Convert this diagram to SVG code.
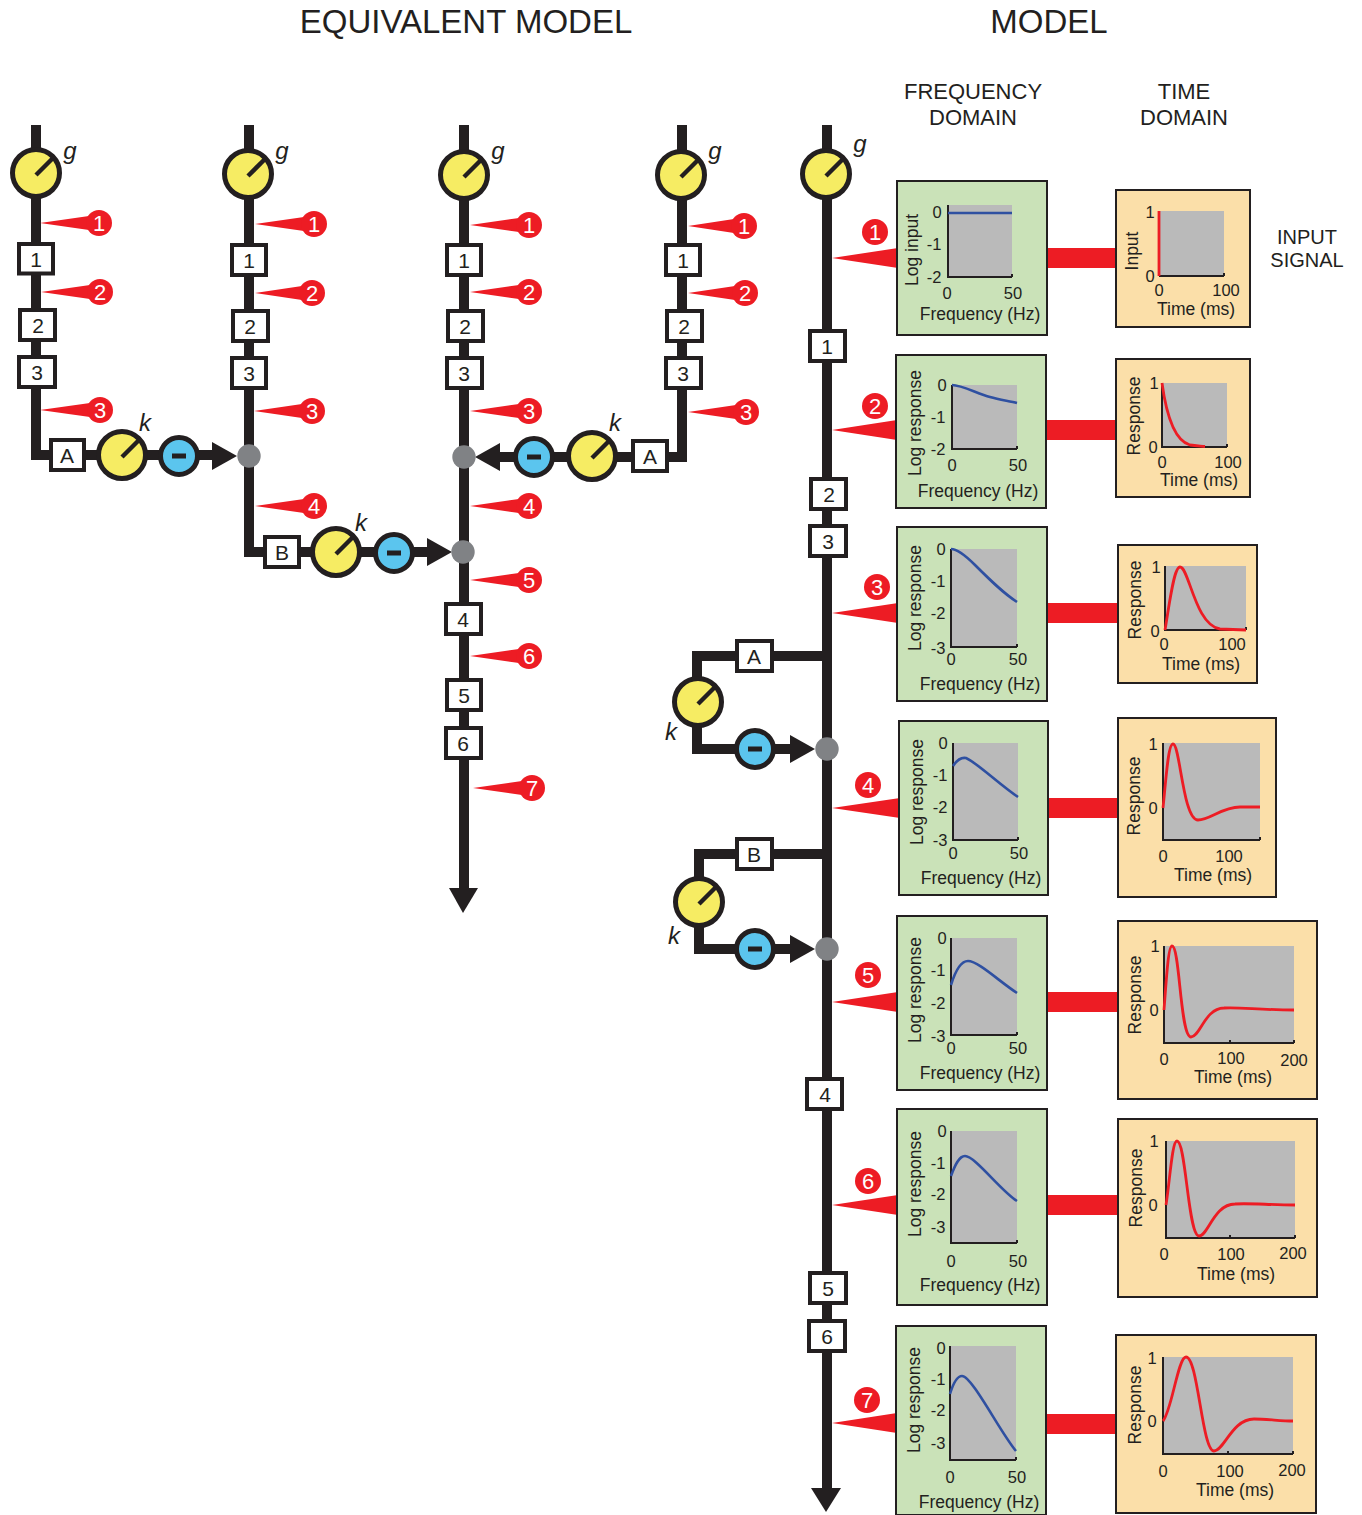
<svg xmlns="http://www.w3.org/2000/svg" width="1362" height="1515" viewBox="0 0 1362 1515">
<style>
text{font-family:"Liberation Sans",Arial,sans-serif;fill:#231f20;text-anchor:middle}
.title{font-size:33px}
.head{font-size:22px}
.sig{font-size:20px}
.lab{font-size:17.5px;dominant-baseline:central}
.tick{font-size:16.5px;dominant-baseline:central}
.box text{font-size:21px;dominant-baseline:central}
.it{font-size:24px;font-style:italic;dominant-baseline:central}
.wire{fill:none;stroke:#231f20;stroke-width:10}
.head-fill{fill:#231f20}
.box rect{fill:#fff;stroke:#231f20;stroke-width:4}
.dial{fill:#f6ec63;stroke:#231f20;stroke-width:5}
.needle{stroke:#231f20;stroke-width:4.5;fill:none}
.inv{fill:#5bc5ee;stroke:#231f20;stroke-width:5}
.bar{fill:#231f20}
.sum{fill:#808285}
.pin{fill:#ed1c24}
.pin text,.num text{fill:#fff;font-size:22px;dominant-baseline:central}
.green{fill:#cae2b8;stroke:#231f20;stroke-width:2}
.orange{fill:#fbdfa9;stroke:#231f20;stroke-width:2}
.gray{fill:#bababa}
.axis{fill:none;stroke:#231f20;stroke-width:2}
.blue{fill:none;stroke:#2f50a1;stroke-width:2.6}
.red{fill:none;stroke:#ed1c24;stroke-width:2.8}
</style>
<defs>
<g id="dialMark"><circle class="dial" r="23.5"/><path class="needle" d="M0,2 L17,-15"/></g>
<g id="invMark"><circle class="inv" r="18.5"/><rect class="bar" x="-7" y="-2.5" width="14" height="5"/></g>
<circle id="sumMark" class="sum" r="11.7"/>
</defs>

<g id="titles">
<text class="title" x="466" y="33">EQUIVALENT MODEL</text>
<text class="title" x="1049" y="33">MODEL</text>
<text class="head" x="973" y="99">FREQUENCY</text>
<text class="head" x="973" y="125">DOMAIN</text>
<text class="head" x="1184" y="99">TIME</text>
<text class="head" x="1184" y="125">DOMAIN</text>
<text class="sig" x="1307" y="244">INPUT</text>
<text class="sig" x="1307" y="267">SIGNAL</text>
</g>

<g id="connectors">
<path class="wire" d="M36,125 V455 H215"/>
<path class="wire" d="M249,125 V552 H430"/>
<path class="wire" d="M464,125 V890"/>
<path class="wire" d="M682,125 V457 H497"/>
<path class="wire" d="M827,125 V1490"/>
<path class="wire" d="M827,656 H697 V749 H793"/>
<path class="wire" d="M827,854 H699 V949 H793"/>
<path class="head-fill" d="M212,442 L237,456 L212,470Z"/>
<path class="head-fill" d="M427,538 L452,552 L427,566Z"/>
<path class="head-fill" d="M500,443 L475,457 L500,471Z"/>
<path class="head-fill" d="M790,735 L815,749 L790,763Z"/>
<path class="head-fill" d="M790,935 L815,949 L790,963Z"/>
<path class="head-fill" d="M449,888 L463,913 L478,888Z"/>
<path class="head-fill" d="M811,1488 L826,1512 L841,1488Z"/>
<rect class="pin" x="1047" y="248" width="70" height="20"/>
<rect class="pin" x="1046" y="420" width="71" height="20"/>
<rect class="pin" x="1047" y="603" width="72" height="20"/>
<rect class="pin" x="1048" y="798" width="71" height="20"/>
<rect class="pin" x="1047" y="992" width="72" height="20"/>
<rect class="pin" x="1047" y="1195" width="72" height="20"/>
<rect class="pin" x="1046" y="1414" width="71" height="20"/>
<path class="pin" d="M832,258 L898,248 V268Z"/>
<path class="pin" d="M832,430 L897,420 V440Z"/>
<path class="pin" d="M832,613 L898,603 V623Z"/>
<path class="pin" d="M832,808 L900,798 V818Z"/>
<path class="pin" d="M832,1002 L898,992 V1012Z"/>
<path class="pin" d="M832,1205 L898,1195 V1215Z"/>
<path class="pin" d="M832,1423 L897,1413 V1433Z"/>
</g>

<g id="chain1">
<use href="#dialMark" x="36" y="173"/><text class="it" x="70" y="150">g</text>
<g class="box"><rect x="19" y="244" width="34" height="29.5"/><text x="36" y="259">1</text></g>
<g class="box"><rect x="20" y="310" width="35" height="30"/><text x="38" y="325">2</text></g>
<g class="box"><rect x="19" y="357" width="36" height="30"/><text x="37" y="372">3</text></g>
<g class="box"><rect x="51" y="440" width="33" height="30"/><text x="67" y="455">A</text></g>
<use href="#dialMark" x="122" y="455"/><text class="it" x="145" y="422">k</text>
<use href="#invMark" x="179" y="456"/>
<use href="#sumMark" x="249" y="456"/>
<g class="pin"><path d="M40,223 L89,216 V230Z"/><circle cx="99" cy="223" r="13"/><text x="99" y="223">1</text></g>
<g class="pin"><path d="M41,292 L90,285 V299Z"/><circle cx="100" cy="292" r="13"/><text x="100" y="292">2</text></g>
<g class="pin"><path d="M40,410 L90,403 V417Z"/><circle cx="100" cy="410" r="13"/><text x="100" y="410">3</text></g>
</g>

<g id="chain2">
<use href="#dialMark" x="248" y="174"/><text class="it" x="282" y="150">g</text>
<g class="box"><rect x="232" y="245" width="34" height="30"/><text x="249" y="260">1</text></g>
<g class="box"><rect x="233" y="311" width="35" height="30"/><text x="250" y="326">2</text></g>
<g class="box"><rect x="232" y="358" width="34" height="30"/><text x="249" y="373">3</text></g>
<g class="box"><rect x="265" y="537" width="34" height="30"/><text x="282" y="552">B</text></g>
<use href="#dialMark" x="336" y="552"/><text class="it" x="361" y="522">k</text>
<use href="#invMark" x="394" y="553"/>
<g class="pin"><path d="M255,224 L304,217 V231Z"/><circle cx="314" cy="224" r="13"/><text x="314" y="224">1</text></g>
<g class="pin"><path d="M255,293 L302,286 V300Z"/><circle cx="312" cy="293" r="13"/><text x="312" y="293">2</text></g>
<g class="pin"><path d="M254,411 L302,404 V418Z"/><circle cx="312" cy="411" r="13"/><text x="312" y="411">3</text></g>
<g class="pin"><path d="M255,506 L304,499 V513Z"/><circle cx="314" cy="506" r="13"/><text x="314" y="506">4</text></g>
</g>

<g id="chain3">
<use href="#dialMark" x="464" y="175"/><text class="it" x="498" y="150">g</text>
<g class="box"><rect x="447" y="245" width="34" height="30"/><text x="464" y="260">1</text></g>
<g class="box"><rect x="448" y="311" width="35" height="30"/><text x="465" y="326">2</text></g>
<g class="box"><rect x="447" y="358" width="35" height="30"/><text x="464" y="373">3</text></g>
<g class="box"><rect x="446" y="604" width="35" height="30"/><text x="463" y="619">4</text></g>
<g class="box"><rect x="447" y="680" width="34" height="30"/><text x="464" y="695">5</text></g>
<g class="box"><rect x="446" y="728" width="35" height="30"/><text x="463" y="743">6</text></g>
<use href="#sumMark" x="464" y="457"/>
<use href="#sumMark" x="463" y="552"/>
<g class="pin"><path d="M470,225 L519,218 V232Z"/><circle cx="529" cy="225" r="13"/><text x="529" y="225">1</text></g>
<g class="pin"><path d="M470,292 L519,285 V299Z"/><circle cx="529" cy="292" r="13"/><text x="529" y="292">2</text></g>
<g class="pin"><path d="M470,411 L519,404 V418Z"/><circle cx="529" cy="411" r="13"/><text x="529" y="411">3</text></g>
<g class="pin"><path d="M470,506 L519,499 V513Z"/><circle cx="529" cy="506" r="13"/><text x="529" y="506">4</text></g>
<g class="pin"><path d="M470,580 L519,573 V587Z"/><circle cx="529" cy="580" r="13"/><text x="529" y="580">5</text></g>
<g class="pin"><path d="M470,656 L519,649 V663Z"/><circle cx="529" cy="656" r="13"/><text x="529" y="656">6</text></g>
<g class="pin"><path d="M473,788 L522,781 V795Z"/><circle cx="532" cy="788" r="13"/><text x="532" y="788">7</text></g>
</g>

<g id="chain4">
<use href="#dialMark" x="681" y="175"/><text class="it" x="715" y="150">g</text>
<g class="box"><rect x="666" y="245" width="34" height="30"/><text x="683" y="260">1</text></g>
<g class="box"><rect x="667" y="311" width="35" height="30"/><text x="684" y="326">2</text></g>
<g class="box"><rect x="666" y="358" width="35" height="30"/><text x="683" y="373">3</text></g>
<g class="box"><rect x="633" y="441" width="34" height="30"/><text x="650" y="456">A</text></g>
<use href="#dialMark" x="592" y="456"/><text class="it" x="615" y="422">k</text>
<use href="#invMark" x="534" y="457"/>
<g class="pin"><path d="M688,226 L734,219 V233Z"/><circle cx="744" cy="226" r="13"/><text x="744" y="226">1</text></g>
<g class="pin"><path d="M688,293 L735,286 V300Z"/><circle cx="745" cy="293" r="13"/><text x="745" y="293">2</text></g>
<g class="pin"><path d="M688,412 L736,405 V419Z"/><circle cx="746" cy="412" r="13"/><text x="746" y="412">3</text></g>
</g>

<g id="model-main">
<use href="#dialMark" x="826" y="174"/><text class="it" x="860" y="143">g</text>
<g class="box"><rect x="810" y="331" width="35" height="30"/><text x="827" y="346">1</text></g>
<g class="box"><rect x="811" y="479" width="35" height="30"/><text x="829" y="494">2</text></g>
<g class="box"><rect x="810" y="526" width="36" height="30"/><text x="828" y="541">3</text></g>
<g class="box"><rect x="807" y="1079" width="35" height="30"/><text x="825" y="1094">4</text></g>
<g class="box"><rect x="810" y="1273" width="36" height="30"/><text x="828" y="1288">5</text></g>
<g class="box"><rect x="809" y="1321" width="36" height="30"/><text x="827" y="1336">6</text></g>
<g class="box"><rect x="737" y="641" width="35" height="30"/><text x="754" y="656">A</text></g>
<use href="#dialMark" x="698" y="702"/><text class="it" x="671" y="731">k</text>
<use href="#invMark" x="755" y="749"/>
<use href="#sumMark" x="827" y="749"/>
<g class="box"><rect x="737" y="839" width="35" height="30"/><text x="754" y="854">B</text></g>
<use href="#dialMark" x="699" y="902"/><text class="it" x="674" y="935">k</text>
<use href="#invMark" x="755" y="949"/>
<use href="#sumMark" x="827" y="949"/>
<g class="num"><circle class="pin" cx="875" cy="232" r="13"/><text x="875" y="232">1</text>
<circle class="pin" cx="875" cy="406" r="13"/><text x="875" y="406">2</text>
<circle class="pin" cx="877" cy="587" r="13"/><text x="877" y="587">3</text>
<circle class="pin" cx="868" cy="785" r="13"/><text x="868" y="785">4</text>
<circle class="pin" cx="868" cy="975" r="13"/><text x="868" y="975">5</text>
<circle class="pin" cx="868" cy="1181" r="13"/><text x="868" y="1181">6</text>
<circle class="pin" cx="867" cy="1400" r="13"/><text x="867" y="1400">7</text></g>
</g>

<g id="freq1"><rect class="green" x="897" y="181" width="150" height="154"/>
<rect class="gray" x="948" y="205" width="64" height="72"/>
<path class="axis" d="M948,205 V277 H1012 M1012,274 V277"/><path class="blue" d="M948,213 H1012"/>
<text class="tick" x="937" y="212">0</text><text class="tick" x="934" y="244">-1</text><text class="tick" x="934" y="277">-2</text>
<text class="tick" x="947" y="293">0</text><text class="tick" x="1013" y="293">50</text>
<text class="lab" x="980" y="314">Frequency (Hz)</text><text class="lab" transform="rotate(-90 912 250)" x="912" y="250">Log input</text></g>

<g id="freq2"><rect class="green" x="896" y="355" width="150" height="153"/>
<rect class="gray" x="952" y="385" width="65" height="64"/>
<path class="axis" d="M952,385 V449 H1017 M1017,446 V449"/><path class="blue" d="M952,385 C962,385 978,394 990,397 C1000,400 1010,401 1017,403"/>
<text class="tick" x="942" y="385">0</text><text class="tick" x="938" y="417">-1</text><text class="tick" x="938" y="449">-2</text>
<text class="tick" x="952" y="465">0</text><text class="tick" x="1018" y="465">50</text>
<text class="lab" x="978" y="491">Frequency (Hz)</text><text class="lab" transform="rotate(-90 915 423)" x="915" y="423">Log response</text></g>

<g id="freq3"><rect class="green" x="897" y="527" width="150" height="174"/>
<rect class="gray" x="951" y="549" width="66" height="98"/>
<path class="axis" d="M951,549 V647 H1017 M1017,644 V647"/><path class="blue" d="M951,549 C958,549 966,556 975,565 C990,580 1003,593 1017,602"/>
<text class="tick" x="941" y="549">0</text><text class="tick" x="938" y="581">-1</text><text class="tick" x="938" y="613">-2</text><text class="tick" x="938" y="648">-3</text>
<text class="tick" x="951" y="659">0</text><text class="tick" x="1018" y="659">50</text>
<text class="lab" x="980" y="684">Frequency (Hz)</text><text class="lab" transform="rotate(-90 915 598)" x="915" y="598">Log response</text></g>

<g id="freq4"><rect class="green" x="899" y="721" width="149" height="174"/>
<rect class="gray" x="953" y="743" width="65" height="97"/>
<path class="axis" d="M953,743 V840 H1018 M1018,837 V840"/><path class="blue" d="M953,766 C957,760 961,757 966,758 C976,762 1000,785 1018,797"/>
<text class="tick" x="943" y="743">0</text><text class="tick" x="940" y="775">-1</text><text class="tick" x="940" y="807">-2</text><text class="tick" x="940" y="840">-3</text>
<text class="tick" x="953" y="853">0</text><text class="tick" x="1019" y="853">50</text>
<text class="lab" x="981" y="878">Frequency (Hz)</text><text class="lab" transform="rotate(-90 917 792)" x="917" y="792">Log response</text></g>

<g id="freq5"><rect class="green" x="897" y="916" width="150" height="174"/>
<rect class="gray" x="951" y="938" width="66" height="97"/>
<path class="axis" d="M951,938 V1035 H1017 M1017,1032 V1035"/><path class="blue" d="M951,985 C955,972 960,961 968,961 C978,961 1000,982 1017,993"/>
<text class="tick" x="942" y="938">0</text><text class="tick" x="938" y="970">-1</text><text class="tick" x="938" y="1003">-2</text><text class="tick" x="938" y="1036">-3</text>
<text class="tick" x="951" y="1048">0</text><text class="tick" x="1018" y="1048">50</text>
<text class="lab" x="980" y="1073">Frequency (Hz)</text><text class="lab" transform="rotate(-90 915 990)" x="915" y="990">Log response</text></g>

<g id="freq6"><rect class="green" x="897" y="1109" width="150" height="196"/>
<rect class="gray" x="951" y="1131" width="66" height="112"/>
<path class="axis" d="M951,1131 V1243 H1017 M1017,1240 V1243"/><path class="blue" d="M951,1176 C955,1165 959,1156 965,1156 C975,1156 1000,1190 1017,1201"/>
<text class="tick" x="942" y="1131">0</text><text class="tick" x="938" y="1163">-1</text><text class="tick" x="938" y="1194">-2</text><text class="tick" x="938" y="1227">-3</text>
<text class="tick" x="951" y="1261">0</text><text class="tick" x="1018" y="1261">50</text>
<text class="lab" x="980" y="1285">Frequency (Hz)</text><text class="lab" transform="rotate(-90 915 1184)" x="915" y="1184">Log response</text></g>

<g id="freq7"><rect class="green" x="896" y="1326" width="150" height="189"/>
<rect class="gray" x="950" y="1346" width="66" height="114"/>
<path class="axis" d="M950,1346 V1460 H1016 M1016,1457 V1460"/><path class="blue" d="M950,1394 C953,1384 957,1376 962,1376 C972,1376 1000,1432 1016,1451"/>
<text class="tick" x="941" y="1348">0</text><text class="tick" x="938" y="1379">-1</text><text class="tick" x="938" y="1410">-2</text><text class="tick" x="938" y="1443">-3</text>
<text class="tick" x="950" y="1477">0</text><text class="tick" x="1017" y="1477">50</text>
<text class="lab" x="979" y="1502">Frequency (Hz)</text><text class="lab" transform="rotate(-90 914 1400)" x="914" y="1400">Log response</text></g>

<g id="time1"><rect class="orange" x="1116" y="190" width="134" height="137"/>
<rect class="gray" x="1159" y="211" width="65" height="65"/>
<path class="axis" d="M1159,276 H1224 M1224,273 V276"/><path class="red" d="M1159,211 V276"/>
<text class="tick" x="1150" y="212">1</text><text class="tick" x="1150" y="276">0</text>
<text class="tick" x="1159" y="290">0</text><text class="tick" x="1226" y="290">100</text>
<text class="lab" x="1196" y="309">Time (ms)</text><text class="lab" transform="rotate(-90 1132 251)" x="1132" y="251">Input</text></g>

<g id="time2"><rect class="orange" x="1116" y="359" width="134" height="138"/>
<rect class="gray" x="1162" y="383" width="65" height="64"/>
<path class="axis" d="M1162,383 V447 H1227 M1227,444 V447"/><path class="red" d="M1162,383 C1165,405 1172,440 1190,445 C1196,446 1200,446 1205,446.500"/>
<text class="tick" x="1154" y="383">1</text><text class="tick" x="1153" y="447">0</text>
<text class="tick" x="1162" y="462">0</text><text class="tick" x="1228" y="462">100</text>
<text class="lab" x="1199" y="480">Time (ms)</text><text class="lab" transform="rotate(-90 1134 416)" x="1134" y="416">Response</text></g>

<g id="time3"><rect class="orange" x="1118" y="545" width="139" height="138"/>
<rect class="gray" x="1165" y="566" width="81" height="64"/>
<path class="axis" d="M1165,566 V630 H1246 M1246,627 V630"/><path class="red" d="M1165,630 C1170,600 1174,567 1180,567 C1189,567 1195,625 1220,629 L1246,630"/>
<text class="tick" x="1156" y="567">1</text><text class="tick" x="1155" y="631">0</text>
<text class="tick" x="1164" y="644">0</text><text class="tick" x="1232" y="644">100</text>
<text class="lab" x="1201" y="664">Time (ms)</text><text class="lab" transform="rotate(-90 1135 600)" x="1135" y="600">Response</text></g>

<g id="time4"><rect class="orange" x="1118" y="718" width="158" height="179"/>
<rect class="gray" x="1163" y="743" width="97" height="97"/>
<path class="axis" d="M1163,743 V840 H1260 M1260,837 V840"/><path class="red" d="M1163,808 C1166,780 1168,744 1173,744 C1180,744 1183,820 1198,820 C1210,820 1222,807 1240,807 L1260,807"/>
<text class="tick" x="1153" y="744">1</text><text class="tick" x="1153" y="808">0</text>
<text class="tick" x="1163" y="856">0</text><text class="tick" x="1229" y="856">100</text>
<text class="lab" x="1213" y="875">Time (ms)</text><text class="lab" transform="rotate(-90 1134 796)" x="1134" y="796">Response</text></g>

<g id="time5"><rect class="orange" x="1118" y="921" width="199" height="178"/>
<rect class="gray" x="1164" y="946" width="130" height="97"/>
<path class="axis" d="M1164,946 V1043 H1294 M1294,1040 V1043 M1230,1040 V1043"/><path class="red" d="M1164,1010 C1166,985 1168,946 1172,946 C1180,946 1180,1037 1191,1037 C1200,1037 1205,1008 1224,1008 C1240,1007 1260,1010 1294,1010"/>
<text class="tick" x="1155" y="946">1</text><text class="tick" x="1154" y="1010">0</text>
<text class="tick" x="1164" y="1059">0</text><text class="tick" x="1231" y="1058">100</text><text class="tick" x="1294" y="1060">200</text>
<text class="lab" x="1233" y="1077">Time (ms)</text><text class="lab" transform="rotate(-90 1135 995)" x="1135" y="995">Response</text></g>

<g id="time6"><rect class="orange" x="1118" y="1119" width="199" height="178"/>
<rect class="gray" x="1166" y="1141" width="129" height="97"/>
<path class="axis" d="M1166,1141 V1238 H1295 M1295,1235 V1238 M1230,1235 V1238"/><path class="red" d="M1166,1205 C1170,1180 1172,1141 1177,1141 C1186,1141 1188,1236 1199,1236 C1208,1236 1214,1204 1235,1204 C1250,1203 1270,1205 1295,1205"/>
<text class="tick" x="1154" y="1141">1</text><text class="tick" x="1153" y="1205">0</text>
<text class="tick" x="1164" y="1254">0</text><text class="tick" x="1231" y="1254">100</text><text class="tick" x="1293" y="1253">200</text>
<text class="lab" x="1236" y="1274">Time (ms)</text><text class="lab" transform="rotate(-90 1136 1188)" x="1136" y="1188">Response</text></g>

<g id="time7"><rect class="orange" x="1116" y="1335" width="200" height="178"/>
<rect class="gray" x="1163" y="1357" width="130" height="97"/>
<path class="axis" d="M1163,1357 V1454 H1293 M1293,1451 V1454 M1228,1451 V1454"/><path class="red" d="M1163,1421 C1172,1410 1178,1357 1186,1357 C1198,1357 1202,1451 1214,1451 C1224,1451 1232,1419 1254,1419 C1268,1419 1280,1421 1293,1421"/>
<text class="tick" x="1152" y="1358">1</text><text class="tick" x="1152" y="1421">0</text>
<text class="tick" x="1163" y="1471">0</text><text class="tick" x="1230" y="1471">100</text><text class="tick" x="1292" y="1470">200</text>
<text class="lab" x="1235" y="1490">Time (ms)</text><text class="lab" transform="rotate(-90 1135 1405)" x="1135" y="1405">Response</text></g>
</svg>
